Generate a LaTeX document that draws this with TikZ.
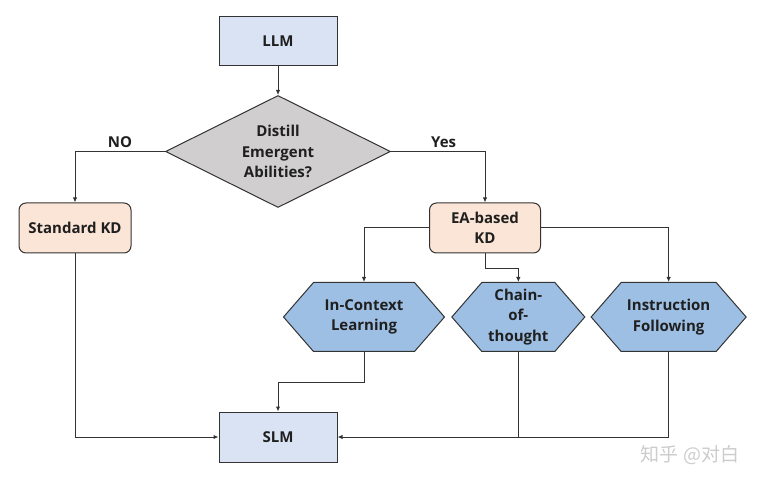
\documentclass[tikz,border=0pt]{standalone}
\usepackage{fontspec}
\setmainfont{Open Sans}
\newfontfamily\cjkfont{Noto Sans CJK SC}
\usepackage{xcolor}
\usetikzlibrary{arrows.meta, shapes.geometric, shapes.symbols, positioning}
\definecolor{edgegray}{HTML}{333333}
\definecolor{termblue}{HTML}{DAE3F3}
\definecolor{choicegray}{HTML}{D0CECE}
\definecolor{kdpeach}{HTML}{FBE5D6}
\definecolor{abilityblue}{HTML}{9DBFE4}
\tikzset{> = { Latex[length = 5pt, width = 4.5pt] }}

\begin{document}
\begin{tikzpicture}[x = 1pt, y = -1pt, ->, font = \bfseries\fontsize{15}{20.5}\selectfont, text = black!88,
		link/.style = { draw = edgegray, line width = 1pt },
		term/.style = { draw = edgegray, line width = 1pt, fill = termblue, minimum width = 118pt, minimum height = 49pt, inner sep = 0pt },
		choice/.style = { diamond, aspect = 2, draw = edgegray, line width = 1pt, fill = choicegray, minimum width = 225pt, minimum height = 112pt, inner sep = 0pt, align = center },
		kd/.style = { draw = edgegray, line width = 1pt, fill = kdpeach, rounded corners = 7pt, minimum width = 112pt, minimum height = 50pt, align = center },
		ability/.style = { signal, signal to = west and east, signal pointer angle = 98, draw = edgegray, line width = 1pt, fill = abilityblue, minimum height = 69pt, inner sep = 0pt, align = center }]
		\useasboundingbox (0,0) rectangle (766,486);

		\node [term]                   (llm) at (278,41) {LLM};
		\node [choice, below = 29pt of llm] (dec) {Distill\\Emergent\\Abilities?};

		\node [kd] (skd) at (75,228) {Standard KD};
		\node [kd, minimum width = 111pt] (eakd) at (485,228) {EA-based\\KD};

		\node [ability, minimum width = 161pt] (icl) at (364,317) {In-Context\\Learning};
		\node [ability, minimum width = 133pt, right = 6pt of icl] (cot) {Chain-\\of-\\thought};
		\node [ability, minimum width = 155pt, right = 5pt of cot] (ifl) {Instruction\\Following};

		\node [term, minimum height = 50pt] (slm) at (278,437) {SLM};

		\node [text = gray!40, font = \cjkfont\fontsize{19}{22}\selectfont] (mark) at (690,455) {知乎 @对白};

		\draw [link] (llm) -- (dec);
		\draw [link] (dec.west) -| node[above, pos = 0.25, inner sep = 3pt] {NO} (skd);
		\draw [link] (dec.east) -| node[above, pos = 0.28, inner sep = 3pt] {Yes} (eakd);

		\draw [link] (eakd.west) -| (icl.north);
		\draw [link] (eakd.south) -- ++(0,15) -| (cot.north);
		\draw [link] (eakd.east) -| (ifl.north);

		\draw [link] (icl.south) -- ++(0,30) -| (slm.north);
		\draw [link] (skd.south) |- (slm.west);
		\draw [link] (ifl.south) |- (slm.east);
		\draw [link, -] (cot.south) -- (cot.south |- slm.east);
	\end{tikzpicture}
\end{document}
